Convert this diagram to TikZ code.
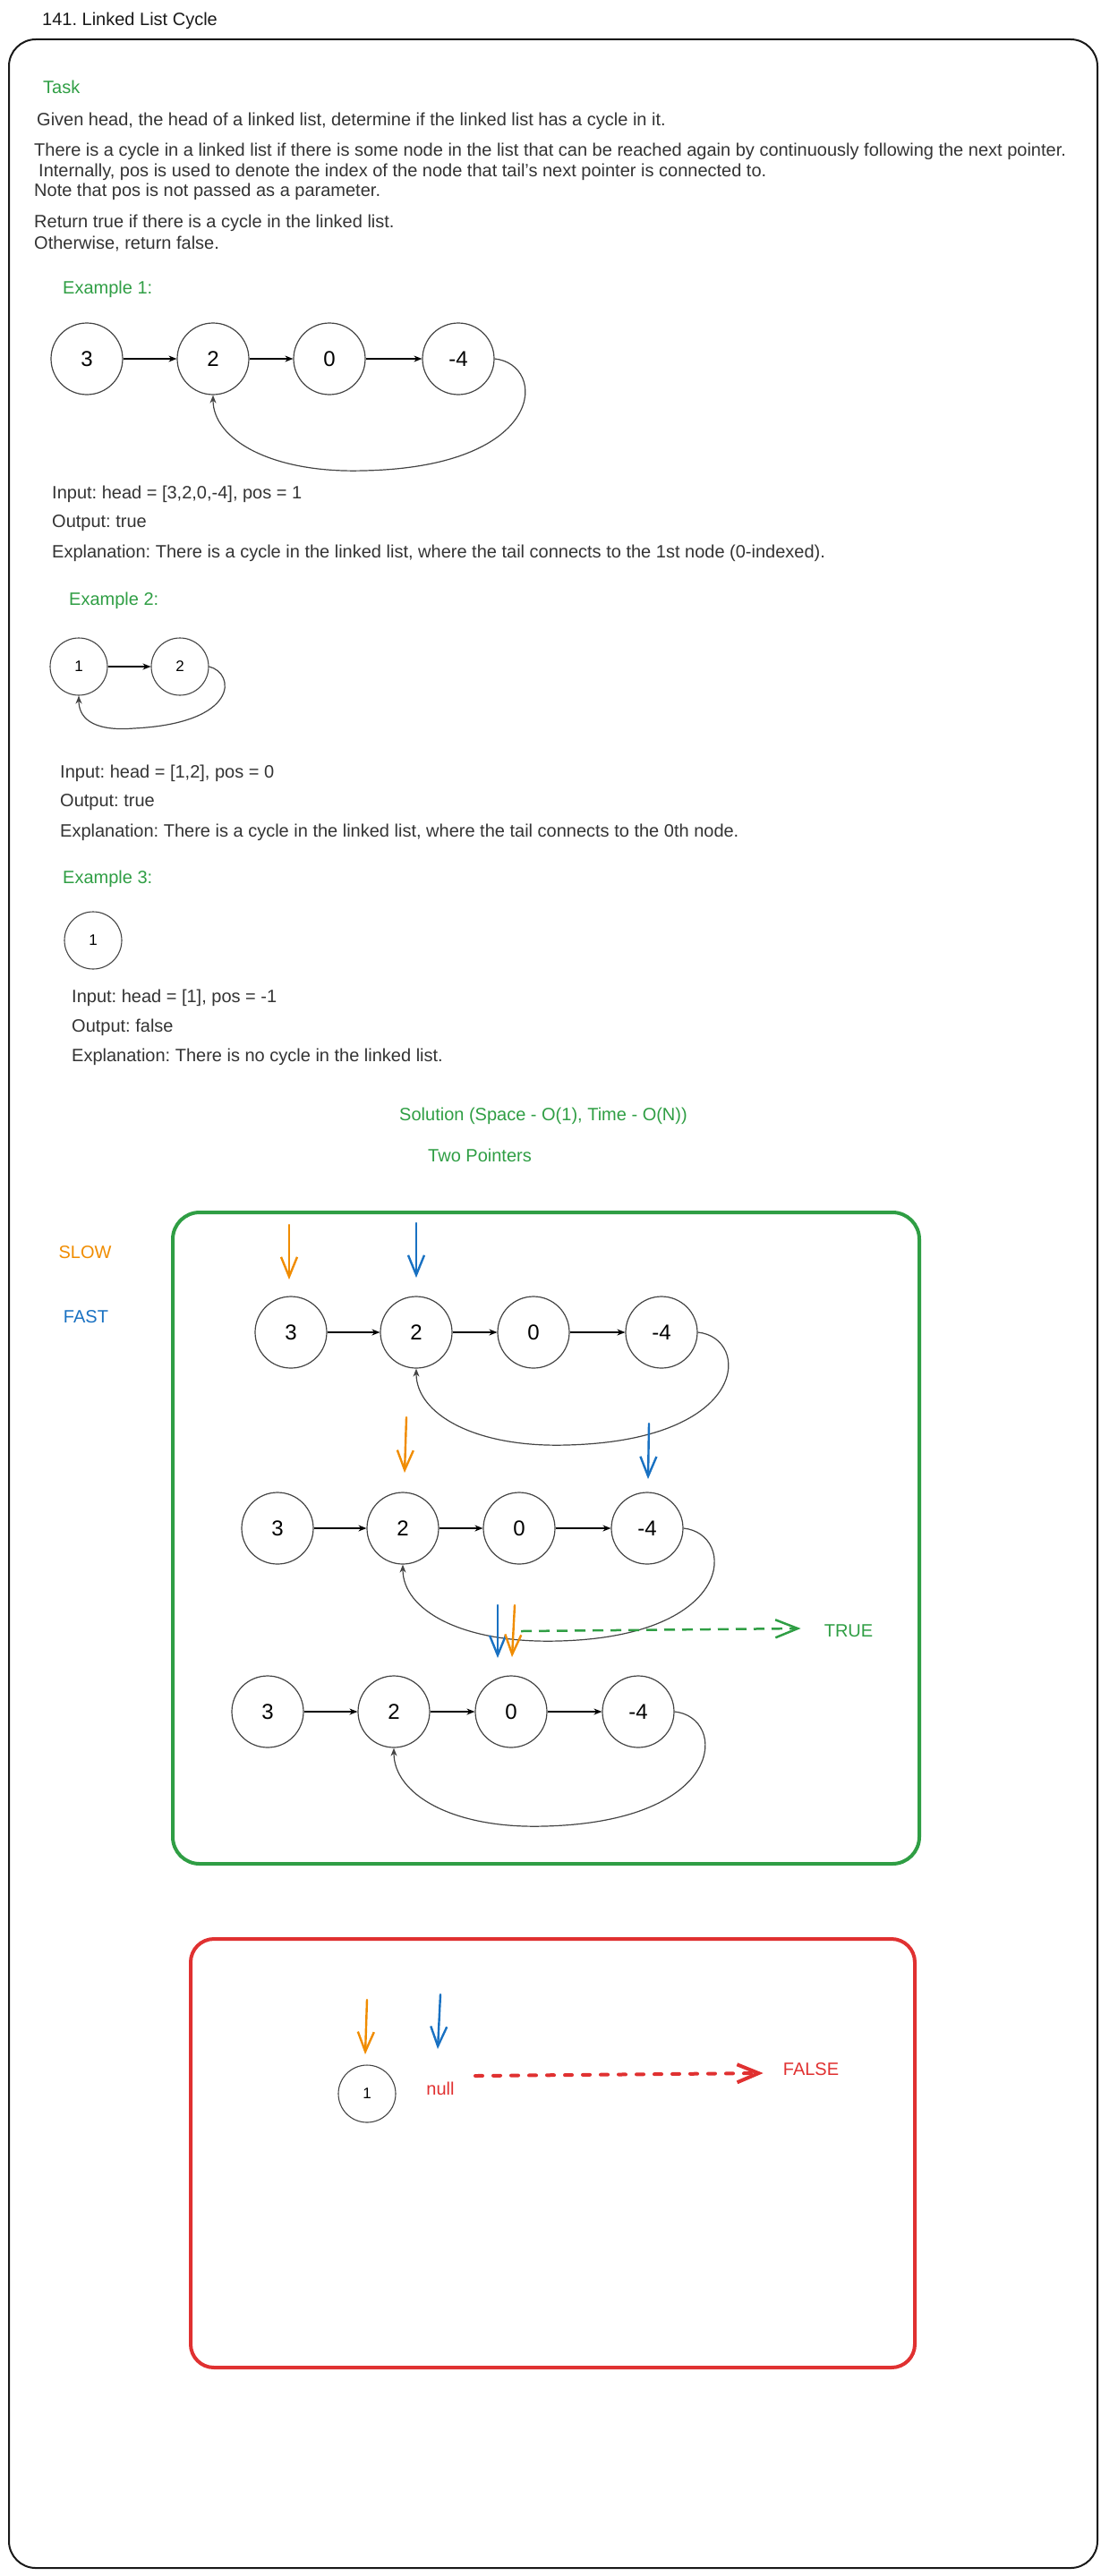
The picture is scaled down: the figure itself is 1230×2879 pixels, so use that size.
\documentclass[tikz,border=0pt]{standalone}
\usepackage{fontspec}
\setmainfont{Liberation Sans}
\usetikzlibrary{arrows.meta,calc}
\definecolor{txt}{HTML}{333333}
\definecolor{grn}{HTML}{2F9E44}
\definecolor{org}{HTML}{F08C00}
\definecolor{blu}{HTML}{1971C2}
\definecolor{rd}{HTML}{E03131}
\definecolor{cgray}{HTML}{444444}
\frenchspacing
\begin{document}
\begin{tikzpicture}[x=1pt,y=-1pt,
  txtl/.style={anchor=west,inner sep=0pt,text=txt,font=\fontsize{20}{24}\selectfont},
  hdr/.style={anchor=west,inner sep=0pt,text=grn,font=\fontsize{20}{24}\selectfont},
  lbl/.style={inner sep=0pt,font=\fontsize{20}{24}\selectfont},
  bignode/.style={circle,draw=cgray,line width=1.2pt,minimum size=80pt,inner sep=0pt,text=black,font=\fontsize{24}{28}\selectfont},
  smallnode/.style={circle,draw=cgray,line width=1.1pt,minimum size=64pt,inner sep=0pt,text=black,font=\fontsize{17}{20}\selectfont},
  nxt/.style={draw=black,line width=1.1pt,-{Stealth[length=9pt,width=7pt]}},
  cyc/.style={draw=cgray,line width=1.2pt,-{Stealth[length=9pt,width=7pt]}},
  slowp/.style={draw=org,line width=2.4pt,line cap=round,-{Straight Barb[length=22pt,width=18pt]}},
  fastp/.style={draw=blu,line width=2.4pt,line cap=round,-{Straight Barb[length=22pt,width=18pt]}},
]
\useasboundingbox (0,0) rectangle (1230,2879);

% title and outer frame
\node[anchor=west,inner sep=0pt,text=black!90,font=\fontsize{20}{24}\selectfont] (title) at (47,23) {141. Linked List Cycle};
\draw[line width=2pt,black!90,rounded corners=30pt] (10,44) rectangle (1226,2870);

% task text
\node[hdr] (task) at (48,97) {Task};
\node[txtl] (t1) at (41,135) {Given head, the head of a linked list, determine if the linked list has a cycle in it.};
\node[txtl] (t2) at (38,169) {There is a cycle in a linked list if there is some node in the list that can be reached again by continuously following the next pointer.};
\node[txtl] (t3) at (43,192) {Internally, pos is used to denote the index of the node that tail's next pointer is connected to.};
\node[txtl] (t4) at (38,214) {Note that pos is not passed as a parameter.};
\node[txtl] (t5) at (38,249) {Return true if there is a cycle in the linked list.};
\node[txtl] (t6) at (38,273) {Otherwise, return false.};

% Example 1
\node[hdr] (ex1) at (70,323) {Example 1:};
\node[bignode] (e1a) at (97,401) {3};
\node[bignode] (e1b) at (238,401) {2};
\node[bignode] (e1c) at (368,401) {0};
\node[bignode] (e1d) at (512,401) {-4};
\draw[nxt] (e1a) -- (e1b);
\draw[nxt] (e1b) -- (e1c);
\draw[nxt] (e1c) -- (e1d);
\draw[cyc] (e1d.east) .. controls ($(e1d)+(100,6)$) and ($(e1d)+(100,121)$) .. ($(e1b)+(168,125)$) .. controls ($(e1b)+(65,128)$) and ($(e1b)+(0,90)$) .. (e1b.south);
\node[txtl] (i1) at (58,552) {Input: head = [3,2,0,-4], pos = 1};
\node[txtl] (o1) at (58,585) {Output: true};
\node[txtl] (x1) at (58,618) {Explanation: There is a cycle in the linked list, where the tail connects to the 1st node (0-indexed).};

% Example 2
\node[hdr] (ex2) at (77,671) {Example 2:};
\node[smallnode] (e2a) at (88,745) {1};
\node[smallnode] (e2b) at (201,745) {2};
\draw[nxt] (e2a) -- (e2b);
\draw[cyc] (e2b.east) .. controls ($(e2b)+(62,7)$) and ($(e2b)+(67,63)$) .. ($(e2a)+(62,69)$) .. controls ($(e2a)+(12,73)$) and ($(e2a)+(0,55)$) .. (e2a.south);
\node[txtl] (i2) at (67,864) {Input: head = [1,2], pos = 0};
\node[txtl] (o2) at (67,897) {Output: true};
\node[txtl] (x2) at (67,930) {Explanation: There is a cycle in the linked list, where the tail connects to the 0th node.};

% Example 3
\node[hdr] (ex3) at (70,982) {Example 3:};
\node[smallnode] (e3a) at (104,1051) {1};
\node[txtl] (i3) at (80,1115) {Input: head = [1], pos = -1};
\node[txtl] (o3) at (80,1148) {Output: false};
\node[txtl] (x3) at (80,1181) {Explanation: There is no cycle in the linked list.};

% Solution
\node[lbl,text=grn] (sol) at (607,1247) {Solution (Space - O(1), Time - O(N))};
\node[lbl,text=grn] (twp) at (536,1291) {Two Pointers};
\node[lbl,text=org] (slow) at (95,1400) {SLOW};
\node[lbl,text=blu] (fast) at (96,1472) {FAST};
\draw[grn,line width=4pt,rounded corners=30pt] (193,1355) rectangle (1027,2083);

% row 1
\node[bignode] (r1a) at (325,1489) {3};
\node[bignode] (r1b) at (465,1489) {2};
\node[bignode] (r1c) at (596,1489) {0};
\node[bignode] (r1d) at (739,1489) {-4};
\draw[nxt] (r1a) -- (r1b);
\draw[nxt] (r1b) -- (r1c);
\draw[nxt] (r1c) -- (r1d);
\draw[cyc] (r1d.east) .. controls ($(r1d)+(100,6)$) and ($(r1d)+(100,121)$) .. ($(r1b)+(168,126)$) .. controls ($(r1b)+(65,129)$) and ($(r1b)+(0,91)$) .. (r1b.south);
\coordinate (s1s) at (323,1369); \coordinate (s1e) at (323,1430);
\coordinate (f1s) at (465,1367); \coordinate (f1e) at (465,1428);
\draw[slowp] (s1s) -- (s1e);
\draw[fastp] (f1s) -- (f1e);

% row 2
\node[bignode] (r2a) at (310,1708) {3};
\node[bignode] (r2b) at (450,1708) {2};
\node[bignode] (r2c) at (580,1708) {0};
\node[bignode] (r2d) at (723,1708) {-4};
\draw[nxt] (r2a) -- (r2b);
\draw[nxt] (r2b) -- (r2c);
\draw[nxt] (r2c) -- (r2d);
\draw[cyc] (r2d.east) .. controls ($(r2d)+(100,6)$) and ($(r2d)+(100,121)$) .. ($(r2b)+(174,126)$) .. controls ($(r2b)+(65,129)$) and ($(r2b)+(0,91)$) .. (r2b.south);
\coordinate (s2s) at (454,1584); \coordinate (s2e) at (452,1646);
\coordinate (f2s) at (725,1591); \coordinate (f2e) at (724,1653);
\draw[slowp] (s2s) -- (s2e);
\draw[fastp] (f2s) -- (f2e);

% row 3
\node[bignode] (r3a) at (299,1913) {3};
\node[bignode] (r3b) at (440,1913) {2};
\node[bignode] (r3c) at (571,1913) {0};
\node[bignode] (r3d) at (713,1913) {-4};
\draw[nxt] (r3a) -- (r3b);
\draw[nxt] (r3b) -- (r3c);
\draw[nxt] (r3c) -- (r3d);
\draw[cyc] (r3d.east) .. controls ($(r3d)+(100,6)$) and ($(r3d)+(100,123)$) .. ($(r3b)+(168,128)$) .. controls ($(r3b)+(65,131)$) and ($(r3b)+(0,92)$) .. (r3b.south);
\coordinate (f3s) at (556,1794); \coordinate (f3e) at (556,1853);
\coordinate (s3s) at (575,1794); \coordinate (s3e) at (572,1852);
\draw[fastp] (f3s) -- (f3e);
\draw[slowp] (s3s) -- (s3e);

% TRUE
\node[lbl,text=grn] (tru) at (948,1823) {TRUE};
\coordinate (g0) at (582,1823);
\draw[grn,line width=2.5pt,dash pattern=on 12pt off 8pt,-{Straight Barb[length=25pt,width=20pt]}] (g0) -- ($(tru.west)+(-26,-3)$);

% no-cycle case
\draw[rd,line width=4pt,rounded corners=26pt] (213,2167) rectangle (1022,2646);
\node[smallnode] (n1) at (410,2340) {1};
\coordinate (s4s) at (410,2235); \coordinate (s4e) at (408,2296);
\coordinate (f4s) at (492,2229); \coordinate (f4e) at (489,2290);
\draw[slowp] (s4s) -- (s4e);
\draw[fastp] (f4s) -- (f4e);
\node[lbl,text=rd] (nul) at (492,2334) {null};
\node[lbl,text=rd] (fls) at (906,2313) {FALSE};
\coordinate (r0) at (531,2320);
\draw[rd,line width=4pt,line cap=round,dash pattern=on 8pt off 12pt,-{Straight Barb[length=24pt,width=20pt]}] (r0) -- ($(fls.west)+(-22,4)$);
\end{tikzpicture}
\end{document}
